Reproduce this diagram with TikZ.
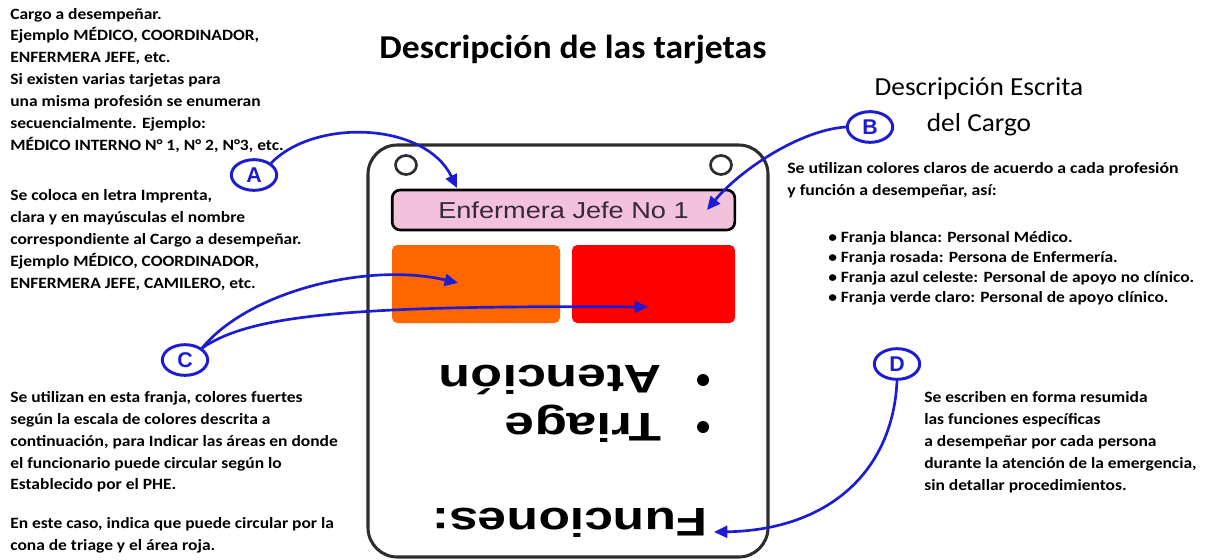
\documentclass[tikz,border=0pt]{standalone}
\usepackage{fontspec}
\usepackage{graphicx}
\setmainfont{Carlito}
\newfontfamily\arialf{Liberation Sans}
\usetikzlibrary{shapes.geometric,arrows.meta}
\definecolor{lblue}{RGB}{28,28,210}
\definecolor{pinkbar}{RGB}{242,194,220}
\definecolor{orangebox}{RGB}{255,102,0}
\definecolor{redbox}{RGB}{255,0,0}
\definecolor{cardline}{RGB}{45,45,45}
\definecolor{cardtxt}{RGB}{55,40,55}
\begin{document}
\begin{tikzpicture}[x=0.75pt,y=-0.75pt, line join=round,
  bodytext/.style={align=left, anchor=base west, inner sep=0pt, font=\bfseries\fontsize{11.8}{16.35}\selectfont},
  badge/.style={ellipse, draw=lblue, line width=2.2pt, minimum width=34pt, minimum height=23pt, inner sep=0pt, text=lblue, font=\arialf\bfseries\fontsize{16}{16}\selectfont},
  pointer/.style={draw=lblue, line width=2pt, -{Triangle[length=10pt,width=9pt]}},
  cardbig/.style={font=\arialf\bfseries\fontsize{30}{30}\selectfont, inner sep=0pt, anchor=base west},
  dot/.style={circle, fill=black, minimum size=9pt, inner sep=0pt},
  colorbox/.style={rounded corners=4pt, minimum height=58.5pt, inner sep=0pt},
]
\useasboundingbox (0,0) rectangle (1206,560);
\fill[white] (0,0) rectangle (1206,560);

% titles
\node[font=\bfseries\fontsize{25}{25}\selectfont, inner sep=0pt] (title) at (573,50) {\scalebox{1.07}[1]{Descripción de las tarjetas}};
\node[font=\fontsize{19.5}{27}\selectfont, align=center, inner sep=0pt] (subtitle) at (979,107) {\scalebox{1.05}[1]{Descripción Escrita}\\\scalebox{1.05}[1]{del Cargo}};

% card
\draw[cardline, line width=2.3pt, rounded corners=22pt] (368,145) rectangle (768,557);
\draw[cardline, line width=2pt] (406,165) ellipse (10.5 and 9.5);
\draw[cardline, line width=2pt] (721,165) ellipse (10.5 and 9.5);
\node[draw=black, fill=pinkbar, line width=2pt, rounded corners=6pt, minimum width=257pt, minimum height=30pt, inner sep=0pt, text=cardtxt, font=\arialf\fontsize{17.25}{17.25}\selectfont] (cargo) at (563.5,210) {\scalebox{1.18}[1]{Enfermera Jefe No 1}};
\node[colorbox, fill=orangebox, minimum width=126pt] (orange) at (476,284) {};
\node[colorbox, fill=redbox, minimum width=122.25pt] (red) at (653.5,284) {};

\begin{scope}[shift={(708,508)}, rotate=180, xscale=1.29, transform shape]
  \node[cardbig] (funciones) at (0,0) {Funciones:};
\end{scope}
\begin{scope}[shift={(662,413)}, rotate=180, xscale=1.33, transform shape]
  \node[cardbig] (triage) at (0,0) {Triage};
\end{scope}
\begin{scope}[shift={(662,365)}, rotate=180, xscale=1.3, transform shape]
  \node[cardbig] (atencion) at (0,0) {Atención};
\end{scope}
\node[dot] (dot1) at (703,380) {};
\node[dot] (dot2) at (703,427) {};

% text blocks (anchored at the baseline of their last line)
\begin{scope}[shift={(10,150)}, xscale=1.11, transform shape]
\node[bodytext] (txtA) at (0,0) {Cargo a desempeñar.\\Ejemplo MÉDICO, COORDINADOR,\\ENFERMERA JEFE, etc.\\Si existen varias tarjetas para\\una misma profesión se enumeran\\secuencialmente. Ejemplo:\\MÉDICO INTERNO N° 1, N° 2, N°3, etc.};
\end{scope}
\begin{scope}[shift={(10,288)}, xscale=1.11, transform shape]
\node[bodytext] (txtA2) at (0,0) {Se coloca en letra Imprenta,\\clara y en mayúsculas el nombre\\correspondiente al Cargo a desempeñar.\\Ejemplo MÉDICO, COORDINADOR,\\ENFERMERA JEFE, CAMILERO, etc.};
\end{scope}
\begin{scope}[shift={(10,550)}, xscale=1.11, transform shape]
\node[bodytext] (txtC) at (0,0) {Se utilizan en esta franja, colores fuertes\\según la escala de colores descrita a\\continuación, para Indicar las áreas en donde\\el funcionario puede circular según lo\\Establecido por el PHE.\\[12.4pt]En este caso, indica que puede circular por la\\cona de triage y el área roja.};
\end{scope}
\begin{scope}[shift={(787,195)}, xscale=1.13, transform shape]
\node[bodytext] (txtB) at (0,0) {Se utilizan colores claros de acuerdo a cada profesión\\y función a desempeñar, así:};
\end{scope}
\begin{scope}[shift={(828,302)}, xscale=1.11, transform shape]
\node[bodytext, font=\bfseries\fontsize{11.8}{15}\selectfont] (txtB2) at (0,0) {• Franja blanca: Personal Médico.\\• Franja rosada: Persona de Enfermería.\\• Franja azul celeste: Personal de apoyo no clínico.\\• Franja verde claro: Personal de apoyo clínico.};
\end{scope}
\begin{scope}[shift={(924,490)}, xscale=1.11, transform shape]
\node[bodytext] (txtD) at (0,0) {Se escriben en forma resumida\\las funciones específicas\\a desempeñar por cada persona\\durante la atención de la emergencia,\\sin detallar procedimientos.};
\end{scope}

% badges
\node[badge] (A) at (254,175) {A};
\node[badge] (B) at (870,127) {B};
\node[badge] (C) at (185,360) {C};
\node[badge] (D) at (897,364) {D};

% arrow targets
\coordinate (tA) at (457,188);
\coordinate (tB) at (707,210);
\coordinate (tC1) at (458,283);
\coordinate (tC2) at (648,307);
\coordinate (tD) at (714,532);

\draw[pointer] (A.north east) .. controls (315,118) and (425,122) .. (tA);
\draw[pointer] (B.west) .. controls (800,130) and (740,170) .. (tB);
\draw[pointer] (C.north east) .. controls (250,290) and (370,262) .. (tC1);
\draw[pointer] (C.north east) .. controls (250,315) and (350,305) .. (tC2);
\draw[pointer] (D.south) .. controls (893,470) and (830,530) .. (tD);
\end{tikzpicture}
\end{document}
